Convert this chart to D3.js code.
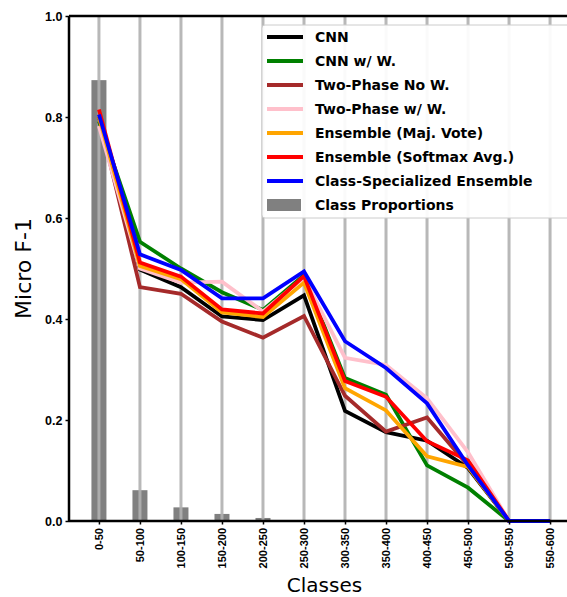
<!DOCTYPE html>
<html>
<head>
<meta charset="utf-8">
<script src="https://cdn.jsdelivr.net/npm/d3@7"></script>
<style>
  body { margin: 0; background: #fff; }
  svg { display: block; font-family: "DejaVu Sans", sans-serif; }
</style>
</head>
<body>
<div id="chart"></div>
<script>
var classes = ["0-50", "50-100", "100-150", "150-200", "200-250", "250-300",
    "300-350", "350-400", "400-450", "450-500", "500-550", "550-600"]

// class proportions (bars)
var proportions = [0.873, 0.061, 0.027, 0.014, 0.006, 0.002, 0, 0, 0, 0, 0, 0]

// micro F-1 per model
var cnn        = [0.800, 0.498, 0.463, 0.405, 0.398, 0.447, 0.218, 0.176, 0.159, 0.105, 0, 0]
var cnnW       = [0.792, 0.553, 0.500, 0.453, 0.418, 0.487, 0.283, 0.250, 0.110, 0.066, 0, 0]
var twoNoW     = [0.800, 0.463, 0.450, 0.395, 0.363, 0.406, 0.248, 0.177, 0.205, 0.110, 0, 0]
var twoW       = [0.782, 0.500, 0.472, 0.474, 0.415, 0.482, 0.323, 0.309, 0.243, 0.136, 0, 0]
var ensMaj     = [0.800, 0.505, 0.479, 0.413, 0.404, 0.472, 0.263, 0.219, 0.128, 0.107, 0, 0]
var ensSoft    = [0.815, 0.512, 0.484, 0.419, 0.411, 0.485, 0.277, 0.246, 0.158, 0.120, 0, 0]
var classSpec  = [0.805, 0.528, 0.497, 0.441, 0.441, 0.494, 0.356, 0.303, 0.233, 0.110, 0, 0]

var seriesNames = ["CNN", "CNN w/ W.", "Two-Phase No W.", "Two-Phase w/ W.",
    "Ensemble (Maj. Vote)", "Ensemble (Softmax Avg.)", "Class-Specialized Ensemble"]
var seriesColors = ["#000000", "#008000", "#a52a2a", "#ffc0cb", "#ffa500", "#ff0000", "#0000ff"]
var seriesValues = [cnn, cnnW, twoNoW, twoW, ensMaj, ensSoft, classSpec]
var yTicks = [0, 0.2, 0.4, 0.6, 0.8, 1.0]

var width = 567, height = 597
var plotLeft = 69, plotTop = 16, plotBottom = 521, plotRight = 580

var svg = d3.select("#chart").append("svg")
    .attr("width", width)
    .attr("height", height)

var x = d3.scaleLinear()
    .domain([-0.73, classes.length - 1 + 0.73])
    .range([plotLeft, plotRight])

var y = d3.scaleLinear()
    .domain([0, 1])
    .range([plotBottom, plotTop])

// bars
svg.append("g").selectAll("rect")
    .data(proportions)
    .enter().append("rect")
    .attr("x", function(d, i) { return x(i) - 7.5 })
    .attr("width", 15)
    .attr("y", function(d) { return y(d) })
    .attr("height", function(d) { return y(0) - y(d) })
    .style("fill", "#808080")

// vertical grid
svg.append("g").selectAll("line")
    .data(classes)
    .enter().append("line")
    .attr("x1", function(d, i) { return x(i) })
    .attr("x2", function(d, i) { return x(i) })
    .attr("y1", plotTop)
    .attr("y2", plotBottom)
    .style("stroke", "#b0b0b0")
    .style("stroke-opacity", 0.9)
    .style("stroke-width", 3)

// lines
var line = d3.line()
    .x(function(d, i) { return x(i) })
    .y(function(d) { return y(d) })

svg.append("g").selectAll("path")
    .data(seriesValues)
    .enter().append("path")
    .attr("d", line)
    .style("fill", "none")
    .style("stroke", function(d, i) { return seriesColors[i] })
    .style("stroke-width", 3.8)
    .style("stroke-linejoin", "miter")

// axes
var yAxis = svg.append("g")
    .attr("transform", "translate(" + plotLeft + ",0)")
    .call(d3.axisLeft(y).tickValues(yTicks).tickFormat(d3.format(".1f")).tickSize(3.5).tickPadding(3))
yAxis.select(".domain").remove()
yAxis.selectAll("line").style("stroke-width", 1.5)
yAxis.selectAll("text")
    .style("font-size", "12.5px")
    .style("font-weight", "bold")
    .style("fill", "#000")

var xAxis = svg.append("g")
    .attr("transform", "translate(0," + plotBottom + ")")
    .call(d3.axisBottom(x).tickValues(d3.range(classes.length))
        .tickFormat(function(i) { return classes[i] }).tickSize(3.5))
xAxis.select(".domain").remove()
xAxis.selectAll("line").style("stroke-width", 1.5)
xAxis.selectAll("text")
    .attr("transform", "rotate(-90)")
    .attr("x", -7)
    .attr("y", 0)
    .attr("dy", "0.35em")
    .style("text-anchor", "end")
    .style("font-size", "11px")
    .style("font-weight", "bold")
    .style("fill", "#000")

// spines
svg.append("line").attr("x1", plotLeft).attr("x2", plotLeft).attr("y1", plotTop).attr("y2", plotBottom)
    .style("stroke", "#000").style("stroke-width", 2.5)
svg.append("line").attr("x1", plotLeft).attr("x2", width).attr("y1", plotBottom).attr("y2", plotBottom)
    .style("stroke", "#000").style("stroke-width", 2.5)
svg.append("line").attr("x1", plotLeft).attr("x2", width).attr("y1", plotTop).attr("y2", plotTop)
    .style("stroke", "#000").style("stroke-width", 2.5)

// axis labels
svg.append("text")
    .attr("transform", "translate(31," + ((plotTop + plotBottom) / 2) + ") rotate(-90)")
    .attr("text-anchor", "middle")
    .style("font-size", "22px")
    .text("Micro F-1")

svg.append("text")
    .attr("x", (plotLeft + plotRight) / 2)
    .attr("y", 592)
    .attr("text-anchor", "middle")
    .style("font-size", "20px")
    .text("Classes")

// legend
var legend = svg.append("g").attr("transform", "translate(262,25)")
legend.append("rect")
    .attr("width", 320)
    .attr("height", 193)
    .attr("rx", 3)
    .style("fill", "#fff")
    .style("fill-opacity", 0.92)
    .style("stroke", "#cccccc")
    .style("stroke-width", 1)

var items = legend.selectAll("g.item")
    .data(seriesNames.concat(["Class Proportions"]))
    .enter().append("g")
    .attr("class", "item")
    .attr("transform", function(d, i) { return "translate(0," + (12 + i * 24) + ")" })

items.each(function(d, i) {
    var g = d3.select(this)
    if (i < seriesNames.length) {
        g.append("line")
            .attr("x1", 5).attr("x2", 41)
            .style("stroke", seriesColors[i])
            .style("stroke-width", 3.8)
    } else {
        g.append("rect")
            .attr("x", 5).attr("y", -6)
            .attr("width", 34).attr("height", 12)
            .style("fill", "#808080")
    }
    g.append("text")
        .attr("x", 53)
        .attr("dy", "0.35em")
        .style("font-size", "14px")
        .style("font-weight", "bold")
        .text(d)
})
</script>
</body>
</html>
